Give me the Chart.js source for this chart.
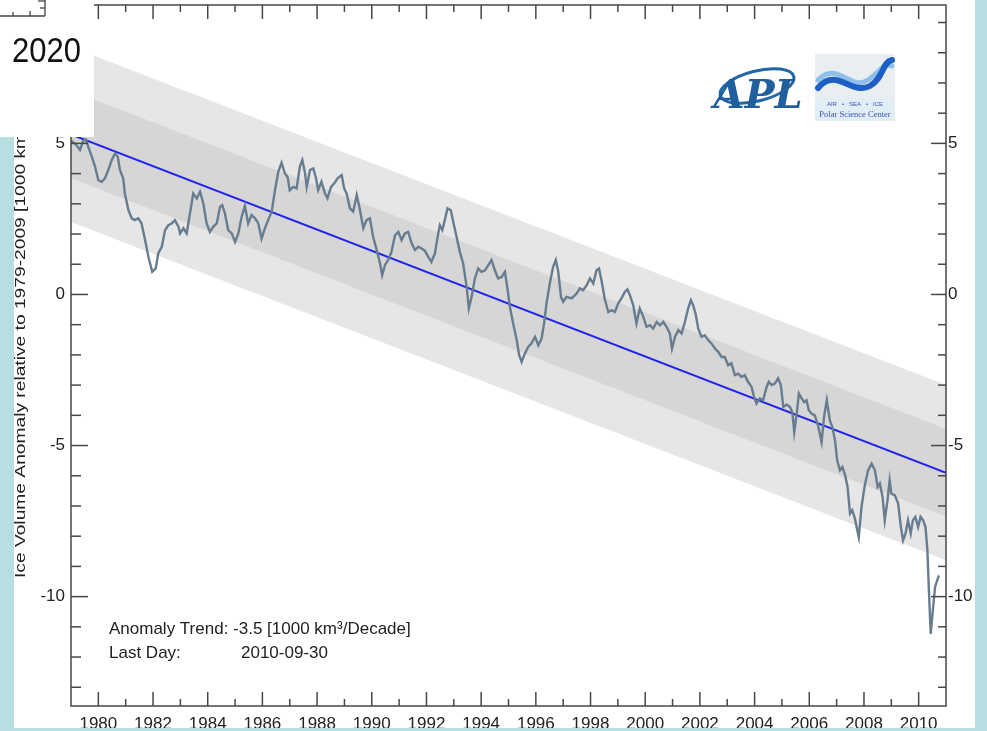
<!DOCTYPE html>
<html>
<head>
<meta charset="utf-8">
<script src="https://cdn.jsdelivr.net/npm/chart.js@4/dist/chart.umd.min.js"></script>
<style>
  html, body { margin: 0; padding: 0; background: #ffffff; }
  #wrap { width: 987px; height: 731px; position: relative; }
  canvas { display: block; }
</style>
</head>
<body>
<div id="wrap"><canvas id="chart" width="987" height="731"></canvas></div>
<script>
// Sea-ice volume anomaly series (decimal year, 1000 km^3)
const years = [
  1979.00, 1979.20, 1979.33, 1979.45, 1979.54, 1979.63, 1979.76, 1979.88,
  1980.00, 1980.12, 1980.24, 1980.36, 1980.49, 1980.61, 1980.71, 1980.79, 1980.91, 1980.97,
  1981.10, 1981.22, 1981.34, 1981.46, 1981.58, 1981.71, 1981.83, 1981.97,
  1982.10, 1982.19, 1982.32, 1982.44, 1982.56, 1982.68, 1982.80, 1982.93, 1982.99,
  1983.11, 1983.23, 1983.35, 1983.47, 1983.60, 1983.72, 1983.84, 1983.96,
  1984.08, 1984.20, 1984.33, 1984.45, 1984.53, 1984.63, 1984.75, 1984.88,
  1985.00, 1985.12, 1985.24, 1985.36, 1985.48, 1985.60, 1985.73, 1985.85, 1985.97,
  1986.09, 1986.21, 1986.34, 1986.46, 1986.58, 1986.70, 1986.82, 1986.92,
  1987.00, 1987.13, 1987.25, 1987.37, 1987.46, 1987.56, 1987.62, 1987.74, 1987.86, 1987.95,
  1988.04, 1988.16, 1988.29, 1988.38, 1988.51, 1988.63, 1988.75, 1988.90, 1988.99,
  1989.08, 1989.20, 1989.32, 1989.45, 1989.57, 1989.69, 1989.81, 1989.93,
  1990.05, 1990.18, 1990.30, 1990.38, 1990.48, 1990.60, 1990.72, 1990.85, 1990.97,
  1991.09, 1991.21, 1991.33, 1991.46, 1991.58, 1991.70, 1991.82, 1991.94,
  1992.06, 1992.18, 1992.31, 1992.43, 1992.49, 1992.58, 1992.67, 1992.77, 1992.89, 1992.98,
  1993.10, 1993.22, 1993.34, 1993.47, 1993.55, 1993.65, 1993.77, 1993.89,
  1994.01, 1994.14, 1994.26, 1994.38, 1994.50, 1994.62, 1994.75, 1994.87, 1994.97,
  1995.05, 1995.17, 1995.30, 1995.39, 1995.48, 1995.60, 1995.72, 1995.84, 1995.97,
  1996.09, 1996.21, 1996.30, 1996.39, 1996.51, 1996.63, 1996.73, 1996.82, 1996.92,
  1997.00, 1997.12, 1997.31, 1997.49, 1997.61, 1997.73, 1997.86, 1997.98,
  1998.10, 1998.22, 1998.31, 1998.40, 1998.52, 1998.65, 1998.77, 1998.89,
  1999.01, 1999.13, 1999.26, 1999.35, 1999.44, 1999.56, 1999.68, 1999.80, 1999.93,
  2000.05, 2000.17, 2000.29, 2000.42, 2000.54, 2000.66, 2000.78, 2000.90, 2000.98,
  2001.09, 2001.21, 2001.33, 2001.45, 2001.57, 2001.67, 2001.75, 2001.84, 2001.94,
  2002.06, 2002.18, 2002.30, 2002.42, 2002.55, 2002.67, 2002.79, 2002.91,
  2003.03, 2003.15, 2003.28, 2003.40, 2003.52, 2003.64, 2003.76, 2003.89, 2003.98,
  2004.07, 2004.19, 2004.31, 2004.44, 2004.52, 2004.62, 2004.74, 2004.86, 2004.96,
  2005.05, 2005.17, 2005.29, 2005.38, 2005.45, 2005.54, 2005.62, 2005.72, 2005.81, 2005.90, 2005.98,
  2006.08, 2006.20, 2006.32, 2006.45, 2006.54, 2006.64, 2006.75, 2006.84, 2006.94,
  2007.02, 2007.12, 2007.21, 2007.31, 2007.40, 2007.49, 2007.57, 2007.67, 2007.73, 2007.81, 2007.91,
  2008.03, 2008.15, 2008.28, 2008.40, 2008.50, 2008.58, 2008.68, 2008.76, 2008.86, 2008.94,
  2009.00, 2009.13, 2009.25, 2009.35, 2009.43, 2009.52, 2009.61, 2009.71, 2009.79, 2009.88, 2009.98,
  2010.07, 2010.16, 2010.25, 2010.32, 2010.37, 2010.44, 2010.52, 2010.60, 2010.74
];
const anomaly = [
  5.10, 4.94, 4.78, 5.09, 5.13, 4.89, 4.56, 4.23,
  3.78, 3.73, 3.84, 4.11, 4.45, 4.67, 4.56, 4.12, 3.84, 3.34,
  2.79, 2.52, 2.46, 2.52, 2.35, 1.80, 1.25, 0.75,
  0.86, 1.36, 1.58, 2.13, 2.29, 2.35, 2.46, 2.24, 2.02,
  2.19, 2.02, 2.68, 3.34, 3.18, 3.40, 3.01, 2.35,
  2.07, 2.24, 2.35, 2.90, 2.96, 2.68, 2.13, 2.02,
  1.74, 2.02, 2.57, 2.93, 2.35, 2.63, 2.52, 2.35, 1.85,
  2.19, 2.46, 2.74, 3.45, 4.06, 4.36, 4.01, 3.89,
  3.45, 3.56, 3.51, 4.23, 4.45, 4.01, 3.56, 4.12, 4.17, 3.89,
  3.45, 3.73, 3.34, 3.18, 3.56, 3.68, 3.84, 3.95, 3.51,
  3.34, 2.85, 2.74, 3.29, 2.79, 2.19, 2.46, 2.52,
  1.91, 1.47, 1.03, 0.64, 0.97, 1.14, 1.41, 1.96, 2.07,
  1.80, 2.02, 2.07, 1.69, 1.47, 1.58, 1.52, 1.45,
  1.25, 1.08, 1.36, 2.02, 2.29, 2.13, 2.46, 2.85, 2.79, 2.40,
  1.91, 1.41, 1.03, 0.25, -0.46, -0.08, 0.53, 0.86,
  0.75, 0.80, 0.97, 1.14, 0.80, 0.53, 0.58, 0.75, 0.14,
  -0.41, -0.96, -1.51, -2.01, -2.23, -1.95, -1.74, -1.62, -1.40,
  -1.68, -1.46, -0.96, -0.30, 0.36, 0.91, 1.14, 0.75, -0.08,
  -0.24, -0.08, -0.13, 0.03, 0.20, 0.14, 0.31, 0.53,
  0.36, 0.80, 0.86, 0.47, -0.15, -0.58, -0.52, -0.58,
  -0.30, -0.13, 0.09, 0.17, -0.02, -0.35, -0.96, -0.46, -0.74,
  -1.07, -1.02, -1.13, -0.91, -1.02, -0.91, -1.07, -1.29, -1.79,
  -1.40, -1.18, -1.29, -0.91, -0.46, -0.19, -0.35, -0.63, -1.13,
  -1.40, -1.35, -1.51, -1.62, -1.79, -1.90, -2.07, -2.07,
  -2.34, -2.28, -2.67, -2.62, -2.73, -2.67, -2.89, -3.06, -3.39,
  -3.61, -3.44, -3.50, -3.06, -2.89, -3.00, -2.95, -2.78, -3.00,
  -3.72, -3.65, -3.72, -3.90, -4.55, -3.94, -3.28, -3.44, -3.56, -3.50, -3.83,
  -3.94, -4.00, -4.33, -4.88, -4.05, -3.50, -4.16, -4.38, -4.82,
  -5.49, -5.82, -5.71, -5.98, -6.37, -7.25, -7.14, -7.42, -7.70, -8.03, -7.03,
  -6.31, -5.82, -5.60, -5.82, -6.37, -6.26, -6.70, -7.47, -6.81, -6.15,
  -6.59, -6.65, -6.92, -7.70, -8.14, -7.91, -7.47, -7.91, -7.47, -7.36, -7.70,
  -7.36, -7.47, -7.70, -8.47, -9.68, -11.23, -10.45, -9.68, -9.30
];

// Linear trend and its spread
const trendPerDecade = -3.5;      // 1000 km^3 per decade
const trendCentreYear = 1995;
const trendCentreValue = -0.30;
const bandSigma = 1.45;           // one standard deviation about the trend

// Axis ranges and labels
const yearRange = [1979, 2011];
const valueRange = [-13.62, 9.58];
const yearLabels = [1980, 1982, 1984, 1986, 1988, 1990, 1992, 1994, 1996, 1998, 2000, 2002, 2004, 2006, 2008, 2010];
const valueLabels = [5, 0, -5, -10];
const lastDay = '2010-09-30';

const trendAt = yr => trendCentreValue + (trendPerDecade / 10) * (yr - trendCentreYear);
const series = years.map((yr, i) => ({ x: yr, y: anomaly[i] }));
const lineAt = off => yearRange.map(yr => ({ x: yr, y: trendAt(yr) + off }));

const FONT = '"Liberation Sans", Arial, Helvetica, sans-serif';
const AXIS_COLOR = '#474747';
const FRAME_BLUE = '#b8dee2';

function seg(ctx, x1, y1, x2, y2) {
  ctx.beginPath(); ctx.moveTo(x1, y1); ctx.lineTo(x2, y2); ctx.stroke();
}

// Frame, inward tick marks, annotations and page decorations
const decorations = {
  id: 'decorations',
  beforeDraw(chart) {
    const ctx = chart.ctx;
    ctx.save();
    ctx.fillStyle = '#ffffff';
    ctx.fillRect(0, 0, chart.width, chart.height);
    ctx.restore();
  },
  afterDraw(chart) {
    const { ctx, chartArea: a, scales } = chart;
    const x = scales.x, y = scales.y;
    ctx.save();

    // plot frame
    ctx.strokeStyle = AXIS_COLOR;
    ctx.lineWidth = 1.5;
    ctx.strokeRect(a.left, a.top, a.right - a.left, a.bottom - a.top);

    // year ticks on bottom and top edges
    for (let yr = yearRange[0] + 1; yr < yearRange[1]; yr++) {
      const px = x.getPixelForValue(yr);
      const len = yr % 2 === 0 ? 14 : 7;
      seg(ctx, px, a.bottom, px, a.bottom - len);
      seg(ctx, px, a.top, px, a.top + len);
    }
    // value ticks on left and right edges
    for (let v = Math.ceil(valueRange[0]); v <= Math.floor(valueRange[1]); v++) {
      const py = y.getPixelForValue(v);
      const major = v % 5 === 0;
      seg(ctx, a.left, py, a.left + (major ? 17 : 10), py);
      seg(ctx, a.right, py, a.right - (major ? 15 : 8), py);
    }

    // trend / date annotation
    ctx.fillStyle = '#222222';
    ctx.font = '17px ' + FONT;
    ctx.textBaseline = 'alphabetic';
    ctx.textAlign = 'left';
    ctx.fillText('Anomaly Trend: ' + trendPerDecade.toFixed(1) + ' [1000 km\u00B3/Decade]', 109, 634);
    ctx.fillText('Last Day:', 109, 658);
    ctx.fillText(lastDay, 241, 658);

    // y-axis title (runs bottom to top)
    ctx.save();
    ctx.translate(25, 578);
    ctx.rotate(-Math.PI / 2);
    ctx.scale(1.28, 1);
    ctx.fillStyle = '#222222';
    ctx.font = '15px ' + FONT;
    ctx.fillText('Ice Volume Anomaly relative to 1979-2009 [1000 km\u00B3]', 0, 0);
    ctx.restore();

    // APL emblem
    ctx.save();
    ctx.strokeStyle = '#2565a3';
    ctx.lineWidth = 3;
    ctx.beginPath();
    ctx.ellipse(757, 86, 38, 15, -0.25, 0, Math.PI * 2);
    ctx.stroke();
    ctx.fillStyle = '#1f5f9e';
    ctx.font = 'italic bold 40px "DejaVu Serif", serif';
    ctx.textAlign = 'center';
    ctx.fillText('APL', 758, 108);
    ctx.restore();

    // Polar Science Center emblem
    ctx.save();
    ctx.fillStyle = '#e9eef1';
    ctx.fillRect(815, 54, 80, 44);
    ctx.fillStyle = '#e1eef6';
    ctx.fillRect(815, 98, 80, 23);
    ctx.lineCap = 'round';
    ctx.strokeStyle = '#8fc0ea';
    ctx.lineWidth = 5;
    ctx.beginPath();
    ctx.moveTo(818, 80);
    ctx.bezierCurveTo(838, 60, 850, 92, 868, 80);
    ctx.bezierCurveTo(880, 72, 884, 62, 892, 66);
    ctx.stroke();
    ctx.strokeStyle = '#1d5fc4';
    ctx.lineWidth = 6;
    ctx.beginPath();
    ctx.moveTo(818, 88);
    ctx.bezierCurveTo(836, 66, 852, 96, 870, 86);
    ctx.bezierCurveTo(884, 78, 882, 62, 892, 60);
    ctx.stroke();
    ctx.fillStyle = '#3a54b0';
    ctx.textAlign = 'center';
    ctx.font = '6px ' + FONT;
    ctx.fillText('AIR   \u2022   SEA   \u2022   ICE', 855, 106);
    ctx.font = '8.5px "Liberation Serif", "DejaVu Serif", serif';
    ctx.fillText('Polar Science Center', 855, 117);
    ctx.restore();

    // inset panel in the upper-left corner
    ctx.fillStyle = '#ffffff';
    ctx.fillRect(0, 0, 94, 137);
    ctx.save();
    ctx.translate(12, 62);
    ctx.scale(1, 1.14);
    ctx.fillStyle = '#111111';
    ctx.font = '31px ' + FONT;
    ctx.textAlign = 'left';
    ctx.fillText('2020', 0, 0);
    ctx.restore();
    ctx.strokeStyle = '#444444';
    ctx.lineWidth = 1.3;
    seg(ctx, 0, 16, 45, 16);
    seg(ctx, 13, 12, 13, 16);
    seg(ctx, 30, 11, 30, 16);
    seg(ctx, 45, 0, 45, 16);
    seg(ctx, 38, 1, 45, 1);
    seg(ctx, 40, 8, 45, 8);

    // page border strips
    ctx.fillStyle = FRAME_BLUE;
    ctx.fillRect(0, 137, 14, chart.height - 137);
    ctx.fillRect(975, 0, 12, chart.height);
    ctx.fillRect(0, 728, chart.width, 3);
    ctx.restore();
  }
};

const tickFont = { family: FONT, size: 17 };
const valueTicks = s => { s.ticks = valueLabels.map(v => ({ value: v })); };

new Chart(document.getElementById('chart'), {
  type: 'line',
  data: {
    datasets: [
      { label: 'Volume anomaly', data: series, borderColor: '#677c8f', borderWidth: 2.4,
        pointRadius: 0, tension: 0, fill: false, order: 0 },
      { label: 'Trend', data: lineAt(0), borderColor: '#1f24ee', borderWidth: 2,
        pointRadius: 0, fill: false, order: 1 },
      { label: '+1 sd', data: lineAt(bandSigma), borderWidth: 0, pointRadius: 0,
        backgroundColor: '#d6d6d6', fill: '+1', order: 2 },
      { label: '-1 sd', data: lineAt(-bandSigma), borderWidth: 0, pointRadius: 0,
        fill: false, order: 3 },
      { label: '+2 sd', data: lineAt(2 * bandSigma), borderWidth: 0, pointRadius: 0,
        backgroundColor: '#e6e6e6', fill: '+1', order: 4 },
      { label: '-2 sd', data: lineAt(-2 * bandSigma), borderWidth: 0, pointRadius: 0,
        fill: false, order: 5 }
    ]
  },
  options: {
    responsive: false,
    animation: false,
    devicePixelRatio: 1,
    layout: { padding: { top: 5, left: 0, right: 0, bottom: 0 } },
    plugins: { legend: { display: false }, tooltip: { enabled: false }, title: { display: false } },
    scales: {
      x: {
        type: 'linear', position: 'bottom', min: yearRange[0], max: yearRange[1],
        afterBuildTicks: s => { s.ticks = yearLabels.map(v => ({ value: v })); },
        afterFit: s => { s.height = 25; s.paddingLeft = 0; s.paddingRight = 0; },
        grid: { display: false, drawTicks: false },
        border: { display: false },
        ticks: {
          autoSkip: false, maxRotation: 0, padding: 8,
          color: '#222222', font: tickFont,
          callback: v => String(v)
        }
      },
      y: {
        type: 'linear', position: 'left', min: valueRange[0], max: valueRange[1],
        afterBuildTicks: valueTicks,
        afterFit: s => { s.width = 71; s.paddingTop = 0; s.paddingBottom = 0; },
        grid: { display: false, drawTicks: false },
        border: { display: false },
        ticks: { autoSkip: false, padding: 6, color: '#222222', font: tickFont, callback: v => String(v) }
      },
      y2: {
        type: 'linear', position: 'right', min: valueRange[0], max: valueRange[1],
        afterBuildTicks: valueTicks,
        afterFit: s => { s.width = 41; s.paddingTop = 0; s.paddingBottom = 0; },
        grid: { display: false, drawTicks: false },
        border: { display: false },
        ticks: { autoSkip: false, padding: 2, color: '#222222', font: tickFont, callback: v => String(v) }
      }
    }
  },
  plugins: [decorations]
});
</script>
</body>
</html>
